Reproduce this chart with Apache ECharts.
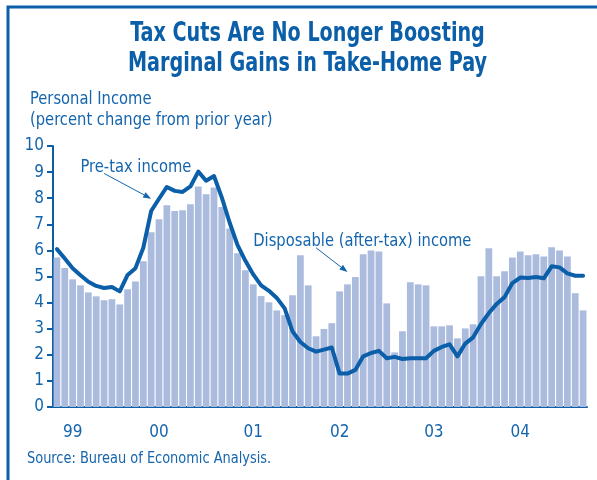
<!DOCTYPE html>
<html>
<head>
<meta charset="utf-8">
<script src="https://cdn.jsdelivr.net/npm/echarts@6/dist/echarts.min.js"></script>
<style>
  html, body { margin: 0; padding: 0; background: #ffffff; }
  #chart { width: 597px; height: 480px; }
</style>
</head>
<body>
<div id="chart"></div>
<script>
// Monthly categories, January 1999 through August 2004
const years = ['1999', '2000', '2001', '2002', '2003', '2004'];
const monthNames = ['Jan','Feb','Mar','Apr','May','Jun','Jul','Aug','Sep','Oct','Nov','Dec'];
const lastYearMonths = 8;

// Disposable (after-tax) personal income, % change from prior year (bars)
const disposable = [
  5.73, 5.33, 4.89, 4.66, 4.39, 4.24, 4.09, 4.13, 3.93, 4.51, 4.81, 5.58,
  6.70, 7.19, 7.73, 7.51, 7.54, 7.77, 8.45, 8.15, 8.41, 7.66, 6.84, 5.89,
  5.24, 4.70, 4.25, 4.01, 3.70, 3.52, 4.28, 5.81, 4.66, 2.71, 2.99, 3.21,
  4.43, 4.70, 4.98, 5.85, 6.00, 5.96, 3.97, 2.09, 2.90, 4.78, 4.70, 4.66,
  3.09, 3.09, 3.13, 2.63, 3.01, 3.17, 5.01, 6.08, 5.01, 5.20, 5.73, 5.96,
  5.81, 5.85, 5.77, 6.12, 6.00, 5.77, 4.36, 3.70
];

// Pre-tax personal income, % change from prior year (line)
const preTax = [
  6.05, 5.69, 5.32, 5.05, 4.80, 4.64, 4.56, 4.60, 4.43, 5.06, 5.32, 6.10,
  7.51, 7.98, 8.43, 8.28, 8.24, 8.45, 9.02, 8.67, 8.85, 8.02, 7.06, 6.20,
  5.60, 5.08, 4.66, 4.45, 4.18, 3.78, 2.90, 2.49, 2.25, 2.12, 2.20, 2.28,
  1.28, 1.28, 1.42, 1.94, 2.07, 2.15, 1.87, 1.92, 1.84, 1.87, 1.87, 1.87,
  2.15, 2.30, 2.40, 1.94, 2.43, 2.67, 3.18, 3.60, 3.95, 4.21, 4.75, 4.96,
  4.94, 4.98, 4.93, 5.39, 5.35, 5.12, 5.03, 5.03
];

// Year labels on the time axis and the month each one sits under
const yearLabels = ['99', '00', '01', '02', '03', '04'];
const yearLabelMonth = [2, 13, 25, 36, 48, 59];

// Y axis range
const yMin = 0, yMax = 10, yStep = 1;

const categories = [];
years.forEach((y, yi) => {
  const n = yi === years.length - 1 ? lastYearMonths : 12;
  for (let m = 0; m < n; m++) categories.push(monthNames[m] + ' ' + y);
});

const BLUE = '#0b5ea8';
const TEXT = '#1565ad';
const BAR = '#abbbde';
const FONT = "'Liberation Sans Narrow', 'DejaVu Sans Condensed', 'Noto Sans', sans-serif";

const chart = echarts.init(document.getElementById('chart'), null, { renderer: 'canvas' });

const option = {
  animation: false,
  backgroundColor: '#ffffff',
  grid: { left: 53, right: 10, top: 146, bottom: 73, containLabel: false },
  xAxis: {
    type: 'category',
    data: categories,
    boundaryGap: true,
    axisLine: { lineStyle: { color: BLUE, width: 2 } },
    axisTick: {
      interval: (i) => i % 6 === 0,
      length: 6,
      lineStyle: { color: BLUE, width: 2 }
    },
    axisLabel: {
      interval: (i) => yearLabelMonth.indexOf(i) >= 0,
      formatter: (v, i) => {
        const k = yearLabelMonth.indexOf(i);
        return k >= 0 ? yearLabels[k] : '';
      },
      color: TEXT,
      fontFamily: FONT,
      fontSize: 17,
      margin: 17
    },
    splitLine: { show: false }
  },
  yAxis: {
    type: 'value',
    min: yMin,
    max: yMax,
    interval: yStep,
    axisLine: { show: true, lineStyle: { color: BLUE, width: 2 } },
    axisTick: { show: true, length: 6, lineStyle: { color: BLUE, width: 2 } },
    axisLabel: { color: TEXT, fontFamily: FONT, fontSize: 17, margin: 9 },
    splitLine: { show: false }
  },
  series: [
    {
      name: 'Disposable (after-tax) income',
      type: 'bar',
      data: disposable,
      barCategoryGap: '14%',
      itemStyle: { color: BAR },
      z: 1
    },
    {
      name: 'Pre-tax income',
      type: 'line',
      data: preTax,
      symbol: 'none',
      smooth: false,
      lineStyle: { color: BLUE, width: 4, join: 'round', cap: 'round' },
      z: 3
    }
  ]
};

chart.setOption(option);

// Annotation arrows, anchored in data coordinates [month index, percent]
const notes = [
  { text: 'Pre-tax income', at: [3.4, 9.2], from: [6.2, 8.95], to: [12.3, 7.98] },
  { text: 'Disposable (after-tax) income', at: [25.0, 6.35], from: [33.1, 6.1], to: [37.4, 5.17] }
];

function arrow(p0, p1) {
  const dx = p1[0] - p0[0], dy = p1[1] - p0[1];
  const len = Math.sqrt(dx * dx + dy * dy);
  const ux = dx / len, uy = dy / len;
  const hl = 8, hw = 3;
  const bx = p1[0] - ux * hl, by = p1[1] - uy * hl;
  return [
    { type: 'line', shape: { x1: p0[0], y1: p0[1], x2: bx, y2: by },
      style: { stroke: TEXT, lineWidth: 1 } },
    { type: 'polygon', shape: { points: [
        [p1[0], p1[1]],
        [bx - uy * hw, by + ux * hw],
        [bx + uy * hw, by - ux * hw]
      ] }, style: { fill: TEXT } }
  ];
}

// Text in a condensed face: horizontal squeeze around the anchor point
function label(text, x, y, font, align, squeeze, fill) {
  return { type: 'text', x: x, y: y, scaleX: squeeze, scaleY: 1,
    style: { text: text, fill: fill || TEXT, font: font + ' ' + FONT,
      textAlign: align, textVerticalAlign: 'middle' } };
}

const graphics = [
  // frame
  { type: 'rect', shape: { x: 8, y: 7, width: 700, height: 600 },
    style: { fill: null, stroke: BLUE, lineWidth: 3 }, silent: true },
  label('Tax Cuts Are No Longer Boosting', 307.5, 34, 'bold 26px', 'center', 0.82, BLUE),
  label('Marginal Gains in Take-Home Pay', 307.5, 64, 'bold 26px', 'center', 0.82, BLUE),
  label('Personal Income', 30, 99, '18px', 'left', 0.91),
  label('(percent change from prior year)', 30, 120, '18px', 'left', 0.91),
  label('Source: Bureau of Economic Analysis.', 27, 459, '16px', 'left', 0.9)
];

notes.forEach((n) => {
  const pt = chart.convertToPixel({ gridIndex: 0 }, n.at);
  graphics.push(label(n.text, pt[0], pt[1], '18px', 'left', 0.91));
  const a = chart.convertToPixel({ gridIndex: 0 }, n.from);
  const b = chart.convertToPixel({ gridIndex: 0 }, n.to);
  arrow(a, b).forEach((g) => graphics.push(g));
});

chart.setOption({ graphic: graphics });
</script>
</body>
</html>
